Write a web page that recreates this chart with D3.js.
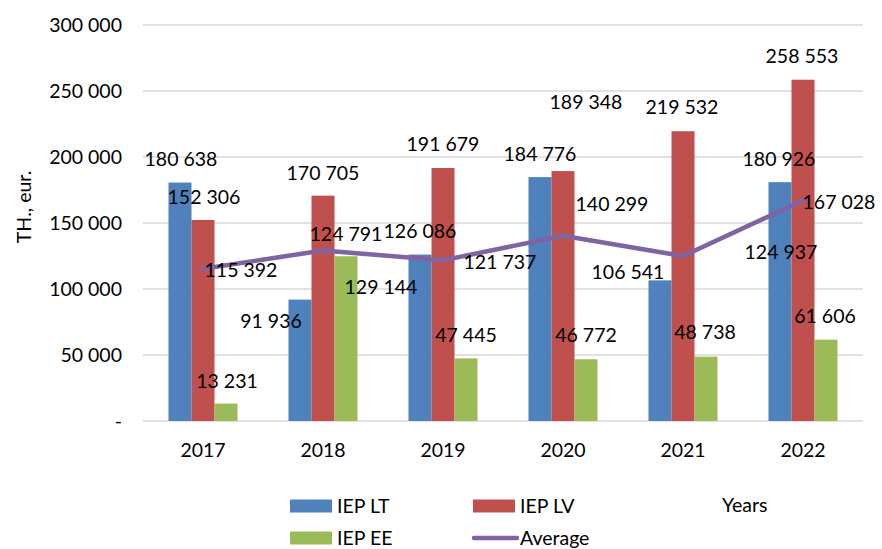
<!DOCTYPE html>
<html>
<head>
<meta charset="utf-8">
<script src="https://cdn.jsdelivr.net/npm/d3@7/dist/d3.min.js"></script>
<style>
  html, body { margin: 0; padding: 0; background: #fff; }
  svg { display: block; }
  text { font-family: Lato, "Open Sans", sans-serif; fill: #000; }
</style>
</head>
<body>
<svg id="chart" width="882" height="549"></svg>
<script>
// ---- Data ----
const years = ["2017", "2018", "2019", "2020", "2021", "2022"];
const iepLT = [180638, 91936, 126086, 184776, 106541, 180926];
const iepLV = [152306, 170705, 191679, 189348, 219532, 258553];
const iepEE = [13231, 124791, 47445, 46772, 48738, 61606];
const average = [115392, 129144, 121737, 140299, 124937, 167028];
const yTicks = [0, 50000, 100000, 150000, 200000, 250000, 300000];
const seriesNames = ["IEP LT", "IEP LV", "IEP EE", "Average"];

// ---- Layout (label offsets in px, relative to bar top / line point) ----
const labelOffsets = {
  "IEP LT": [[1, -24], [-29, 21], [0, -24], [0, -23], [-32, -8], [-1, -23]],
  "IEP LV": [[1, -23], [0, -23], [0, -24], [23, -69], [-1, -24], [-1, -24]],
  "IEP EE": [[1, -23], [0, -22], [0, -23], [0, -24], [-1, -25], [-1, -24]],
  "Average": [[38, 1], [58, 36], [57, 2], [49, -32], [98, -4], [36, 1]]
};
const colors = { "IEP LT": "#4F81BD", "IEP LV": "#C0504D", "IEP EE": "#9BBB59", "Average": "#8064A2" };

const svg = d3.select("#chart");
const mLeft = 143, mRight = 863, mTop = 25, mBottom = 421;
const fontSize = 19.5;

const x0 = d3.scaleBand().domain(years).range([mLeft, mRight]).paddingInner(0.425).paddingOuter(0.2125);
const barSeries = ["IEP LT", "IEP LV", "IEP EE"];
const x1 = d3.scaleBand().domain(barSeries).range([0, x0.bandwidth()]);
const y = d3.scaleLinear().domain([0, 300000]).range([mBottom, mTop]);

const fmt = v => d3.format(",")(v).replace(/,/g, " ");

// gridlines
svg.append("g").selectAll("line").data(yTicks).join("line")
  .attr("x1", mLeft).attr("x2", mRight)
  .attr("y1", d => y(d)).attr("y2", d => y(d))
  .attr("stroke", "#d9d9d9").attr("stroke-width", 1.5);

// y tick labels
svg.append("g").selectAll("text").data(yTicks).join("text")
  .attr("x", 122).attr("y", d => y(d)).attr("dy", "0.36em")
  .attr("text-anchor", "end").attr("font-size", fontSize)
  .text(d => d === 0 ? "-" : fmt(d));

// y title
svg.append("text")
  .attr("transform", "translate(24,207) rotate(-90)")
  .attr("text-anchor", "middle").attr("dy", "0.36em")
  .attr("font-size", fontSize).text("TH., eur.");

// x labels
svg.append("g").selectAll("text").data(years).join("text")
  .attr("x", d => x0(d) + x0.bandwidth() / 2).attr("y", 450).attr("dy", "0.36em")
  .attr("text-anchor", "middle").attr("font-size", fontSize).text(d => d);

// bars
const seriesData = { "IEP LT": iepLT, "IEP LV": iepLV, "IEP EE": iepEE, "Average": average };
barSeries.forEach(s => {
  svg.append("g").selectAll("rect").data(seriesData[s]).join("rect")
    .attr("x", (d, i) => x0(years[i]) + x1(s))
    .attr("y", d => y(d))
    .attr("width", x1.bandwidth())
    .attr("height", d => y(0) - y(d))
    .attr("fill", colors[s]);
});

// line
const cx = i => x0(years[i]) + x0.bandwidth() / 2;
const line = d3.line().x((d, i) => cx(i)).y(d => y(d));
svg.append("path").datum(average)
  .attr("d", line).attr("fill", "none")
  .attr("stroke", colors["Average"]).attr("stroke-width", 4.5)
  .attr("stroke-linejoin", "round").attr("stroke-linecap", "round");

// labels
seriesNames.forEach(s => {
  svg.append("g").selectAll("text").data(seriesData[s]).join("text")
    .attr("x", (d, i) => (s === "Average" ? cx(i) : x0(years[i]) + x1(s) + x1.bandwidth() / 2) + labelOffsets[s][i][0])
    .attr("y", (d, i) => y(d) + labelOffsets[s][i][1])
    .attr("dy", "0.36em").attr("text-anchor", "middle")
    .attr("font-size", fontSize).text(d => fmt(d));
});

// legend
const legendItems = [
  { name: "IEP LT", x: 290, y: 506, type: "rect" },
  { name: "IEP LV", x: 473, y: 506, type: "rect" },
  { name: "IEP EE", x: 290, y: 538, type: "rect" },
  { name: "Average", x: 473, y: 538, type: "line" }
];
const lg = svg.append("g");
legendItems.forEach(it => {
  if (it.type === "rect") {
    lg.append("rect").attr("x", it.x).attr("y", it.y - 6.5).attr("width", 42).attr("height", 13).attr("fill", colors[it.name]);
  } else {
    lg.append("line").attr("x1", it.x + 1).attr("x2", it.x + 44).attr("y1", it.y).attr("y2", it.y)
      .attr("stroke", colors[it.name]).attr("stroke-width", 4.5).attr("stroke-linecap", "round");
  }
  lg.append("text").attr("x", it.x + 47).attr("y", it.y).attr("dy", "0.36em")
    .attr("font-size", fontSize).text(it.name);
});
svg.append("text").attr("x", 722).attr("y", 505).attr("dy", "0.36em")
  .attr("font-size", fontSize).text("Years");
</script>
</body>
</html>
